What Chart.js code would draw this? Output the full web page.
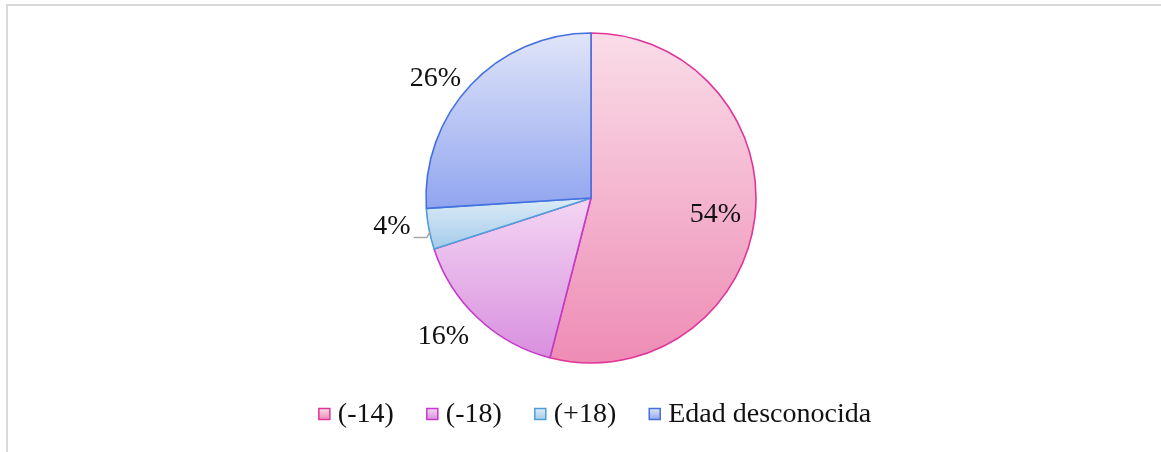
<!DOCTYPE html>
<html>
<head>
<meta charset="utf-8">
<script src="https://cdn.jsdelivr.net/npm/chart.js@4/dist/chart.umd.min.js"></script>
<style>
  html, body { margin: 0; padding: 0; background: #ffffff; }
  #wrap { position: relative; width: 1161px; height: 452px; }
</style>
</head>
<body>
<div id="wrap"><canvas id="pie" width="1161" height="452"></canvas></div>
<script>
// Age groups and their shares (percent)
const categories = ['(-14)', '(-18)', '(+18)', 'Edad desconocida'];
const shares = [54, 16, 4, 26];
const valueLabels = ['54%', '16%', '4%', '26%'];

// Slice styling: light top -> deeper bottom gradient, darker outline
const fillTop = ['#fadde8', '#f3d6f3', '#dcebf7', '#e0e5f9'];
const fillBottom = ['#ee8cb5', '#d98fdf', '#a5cbea', '#91a5ef'];
const outline = ['#e0359a', '#c43ac9', '#4c9fd8', '#4570e0'];

// Label placement: radial factor along the slice's mid-angle plus a small nudge
const labelPlacement = [
  { factor: 0.76, dx: 0, dy: 1 },
  { factor: 1.21, dx: -11, dy: -7 },
  { factor: 1.21, dx: -3, dy: -9 },
  { factor: 1.21, dx: -10, dy: 17 }
];

const FONT = '"Liberation Serif", "Times New Roman", serif';
const PIE_RADIUS = 165;

// Vertical extent of a slice (for a gradient that spans each slice on its own)
function sliceExtent(chart, index) {
  const area = chart.chartArea;
  const cx = (area.left + area.right) / 2;
  const cy = (area.top + area.bottom) / 2;
  const total = shares.reduce((a, b) => a + b, 0);
  let before = 0;
  for (let k = 0; k < index; k++) before += shares[k];
  const a0 = -Math.PI / 2 + (before / total) * 2 * Math.PI;
  const a1 = a0 + (shares[index] / total) * 2 * Math.PI;
  const ys = [cy, cy + PIE_RADIUS * Math.sin(a0), cy + PIE_RADIUS * Math.sin(a1)];
  const TWO = 2 * Math.PI;
  [-Math.PI / 2, Math.PI / 2].forEach(a => {
    for (let t = a - TWO * 2; t <= a1 + 1e-9; t += TWO) {
      if (t >= a0 - 1e-9 && t <= a1 + 1e-9) ys.push(cy + PIE_RADIUS * Math.sin(t));
    }
  });
  return { top: Math.min(...ys), bottom: Math.max(...ys) };
}

function sliceFill(context) {
  const i = context.dataIndex;
  const chart = context.chart;
  if (!chart.chartArea || i === undefined) return fillBottom[i] || fillBottom[0];
  const ext = sliceExtent(chart, i);
  const g = chart.ctx.createLinearGradient(0, ext.top, 0, ext.bottom);
  g.addColorStop(0, fillTop[i]);
  g.addColorStop(1, fillBottom[i]);
  return g;
}

// Frame around the chart
const framePlugin = {
  id: 'frame',
  beforeDraw(chart) {
    const c = chart.ctx;
    c.save();
    c.strokeStyle = '#d9d9d9';
    c.lineWidth = 2;
    c.beginPath();
    c.moveTo(7, 452);
    c.lineTo(7, 5);
    c.lineTo(1161, 5);
    c.stroke();
    c.restore();
  }
};

// Percentage labels: inside for the large slice, outside for the others
const labelPlugin = {
  id: 'sliceLabels',
  afterDatasetsDraw(chart) {
    const meta = chart.getDatasetMeta(0);
    const c = chart.ctx;
    c.save();
    c.font = '28px ' + FONT;
    c.fillStyle = '#111111';
    c.textAlign = 'center';
    c.textBaseline = 'middle';
    meta.data.forEach((arc, i) => {
      const p = labelPlacement[i];
      const mid = (arc.startAngle + arc.endAngle) / 2;
      const r = arc.outerRadius * p.factor;
      const x = arc.x + Math.cos(mid) * r + p.dx;
      const y = arc.y + Math.sin(mid) * r + p.dy;
      c.fillText(valueLabels[i], x, y);
      // short leader line for the narrow slice
      if (shares[i] < 5) {
        const w = c.measureText(valueLabels[i]).width;
        const ex = arc.x + Math.cos(mid) * arc.outerRadius;
        const ey = arc.y + Math.sin(mid) * arc.outerRadius;
        c.strokeStyle = '#a6a6a6';
        c.lineWidth = 1.5;
        c.beginPath();
        c.moveTo(x + w / 2 + 3, y + 11);
        c.lineTo(ex - 2, y + 11);
        c.lineTo(ex + 1, ey + 3);
        c.stroke();
      }
    });
    c.restore();
  }
};

// Legend row under the pie
const legendPlugin = {
  id: 'bottomLegend',
  afterDraw(chart) {
    const c = chart.ctx;
    c.save();
    c.font = '28px ' + FONT;
    const box = 11, gapText = 8, gapItem = 33;
    const widths = categories.map(t => c.measureText(t).width);
    const total = widths.reduce((s, w) => s + box + gapText + w, 0) + gapItem * (categories.length - 1);
    let x = 595 - total / 2;
    const yMid = 414;
    categories.forEach((t, i) => {
      const g = c.createLinearGradient(0, yMid - box / 2, 0, yMid + box / 2);
      g.addColorStop(0, fillTop[i]);
      g.addColorStop(1, fillBottom[i]);
      c.fillStyle = g;
      c.fillRect(x, yMid - box / 2, box, box);
      c.strokeStyle = outline[i];
      c.lineWidth = 1.5;
      c.strokeRect(x, yMid - box / 2, box, box);
      c.fillStyle = '#111111';
      c.textAlign = 'left';
      c.textBaseline = 'middle';
      c.fillText(t, x + box + gapText, yMid + 1);
      x += box + gapText + widths[i] + gapItem;
    });
    c.restore();
  }
};

new Chart(document.getElementById('pie'), {
  type: 'pie',
  data: {
    labels: categories,
    datasets: [{
      data: shares,
      backgroundColor: sliceFill,
      borderColor: outline,
      borderWidth: 1.6,
      borderAlign: 'center'
    }]
  },
  options: {
    responsive: false,
    animation: false,
    radius: PIE_RADIUS,
    rotation: 0,
    layout: { padding: { left: 21, right: 0, top: 0, bottom: 56 } },
    plugins: {
      legend: { display: false },
      tooltip: { enabled: false }
    },
    events: []
  },
  plugins: [framePlugin, labelPlugin, legendPlugin]
});
</script>
</body>
</html>
